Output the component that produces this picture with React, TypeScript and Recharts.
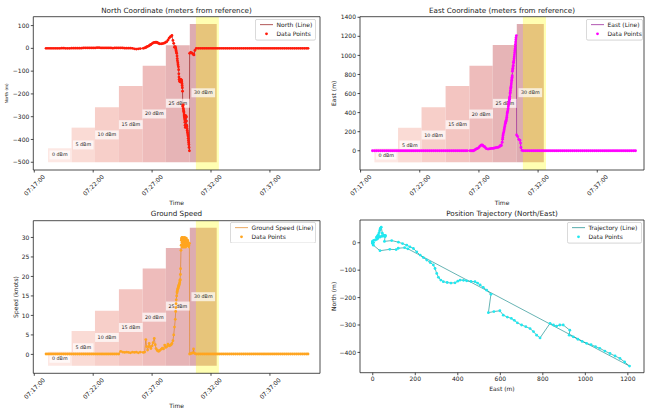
import React from 'react';
import { ComposedChart, Line, XAxis, YAxis, ReferenceArea, ReferenceDot, Legend } from 'recharts';

const FONT = 'DejaVu Sans';
const INK = '#222';

// sample times, seconds after 07:17:00
const times = [
  60, 70, 80, 90, 100, 110, 120, 130, 140, 150, 160, 170, 180, 190, 200, 210, 220, 230, 240,
  250, 260, 270, 280, 290, 300, 310, 320, 330, 340, 350, 360, 370, 380, 390, 400, 410, 420, 430,
  440, 450, 460, 470, 480, 490, 500, 510, 520, 530, 540,
  555, 562, 568, 572, 577, 582, 585, 590, 594, 600, 605, 611, 616, 620, 625, 629, 634, 638, 646,
  652, 658, 664, 670, 675, 681, 687, 692, 697, 701,
  706, 710, 714, 718, 720, 721, 722, 723, 725, 727, 728, 729, 731, 732, 734, 735, 736, 737, 738,
  740, 741, 742, 743, 744, 745, 747, 748, 749, 750, 751, 752, 753, 754, 755, 756, 757, 758, 759,
  760, 761, 762, 763, 764, 765, 766, 767, 768, 769, 770, 771, 772, 773, 774, 775, 776, 777, 778,
  779, 780, 781, 782, 783, 784, 785, 786, 787, 788, 790,
  791, 796, 802, 808, 811, 813, 818, 825,
  835, 845, 855, 865, 875, 885, 895, 905, 915, 925, 935, 945, 955, 965, 975, 985, 995, 1005, 1015,
  1025, 1035, 1045, 1055, 1065, 1075, 1085, 1095, 1105, 1115, 1125, 1135, 1145, 1155, 1165, 1175,
  1185, 1195, 1205, 1215, 1225, 1235, 1245, 1255, 1265, 1275, 1285, 1295, 1305, 1315, 1325, 1335,
  1345, 1355, 1365, 1375, 1385, 1394,
];

// metres north of the reference point
const northM = [
  0, 0, 0, 0, 0, 0, 0, 0, 1, 1, 0, 0, 0, 1, 1, 1, 1, 1, 1,
  2, 2, 2, 2, 2, 2, 2, 3, 3, 2, 2, 2, 2, 2, 2, 1, 2, 2, 2,
  2, 2, 1, 1, 1, 1, 0, -2, -3, -2, -1,
  0, 2, 4, 6, 9, 10, 12, 15, 17, 21, 24, 26, 26, 27, 26, 24, 22, 20, 20,
  21, 22, 24, 27, 30, 37, 45, 50, 53, 57,
  35, 22, 5, 8, 2, -3, -9, -15, -21, -33, -45, -54, -63, -72, -81, -94, -112, -126, -136,
  -142, -145, -147, -146, -140, -136, -137, -139, -141, -142, -147, -154, -163, -173, -188, -255, -251, -248, -264,
  -271, -276, -283, -292, -300, -306, -313, -324, -337, -347, -294, -300, -304, -300, -300, -319, -337, -343, -352,
  -360, -367, -372, -379, -385, -395, -404, -413, -422, -435, -450,
  -22, -18, -20, -25, -24, -29, -9, 0,
  0, 0, 0, 0, 0, 0, 0, 0, 0, 0, 0, 0, 0, 0, 0, 0, 0, 0, 0,
  0, 0, 0, 0, 0, 0, 0, 0, 0, 0, 0, 0, 0, 0, 0, 0, 0, 0, 0,
  0, 0, 0, 0, 0, 0, 0, 0, 0, 0, 0, 0, 0, 0, 0, 0, 0, 0, 0,
];

// metres east of the reference point
const eastM = [
  0, 0, 0, 0, 0, 0, 0, 0, 0, 0, 0, 0, 0, 0, 0, 0, 0, 0, 0,
  0, 0, 0, 0, 0, 0, 0, 0, 0, 0, 0, 0, 0, 0, 0, 0, 0, 0, 0,
  0, 0, 0, 0, 0, 0, 0, 0, 0, 0, 0,
  0, 0, 0, 0, 5, 12, 18, 22, 25, 35, 48, 58, 60, 55, 45, 42, 30, 22, 18,
  20, 22, 24, 25, 26, 30, 33, 35, 36, 40,
  45, 58, 55, 89, 121, 140, 160, 175, 191, 207, 223, 238, 254, 270, 285, 293, 301, 309, 320,
  332, 350, 368, 387, 400, 411, 427, 442, 462, 481, 493, 505, 520, 536, 556, 544, 570, 598, 614,
  633, 652, 666, 680, 700, 720, 740, 756, 771, 787, 834, 850, 865, 880, 896, 927, 924, 943, 965,
  985, 1006, 1027, 1048, 1068, 1092, 1116, 1140, 1163, 1185, 1208,
  165, 150, 120, 110, 80, 34, 3, 0,
  0, 0, 0, 0, 0, 0, 0, 0, 0, 0, 0, 0, 0, 0, 0, 0, 0, 0, 0,
  0, 0, 0, 0, 0, 0, 0, 0, 0, 0, 0, 0, 0, 0, 0, 0, 0, 0, 0,
  0, 0, 0, 0, 0, 0, 0, 0, 0, 0, 0, 0, 0, 0, 0, 0, 0, 0, 0,
];

// ground speed, knots
const speedKn = [
  0.1, 0.1, 0.1, 0.1, 0.1, 0.1, 0.1, 0.1, 0.1, 0.1, 0.1, 0.1, 0.1, 0.1, 0.1, 0.1, 0.1, 0.1, 0.1,
  0.1, 0.1, 0.1, 0.1, 0.1, 0.1, 0.1, 0.1, 0.1, 0.1, 0.1, 0.1, 0.1, 0.1, 0.1, 0.1, 0.1, 0.1, 0.1,
  0.8, 0.6, 0.5, 0.6, 0.5, 0.4, 0.6, 0.5, 0.6, 0.4, 0.6,
  0.5, 0.6, 3.8, 2.0, 1.1, 2.0, 2.8, 2.0, 1.5, 2.2, 3.0, 4.1, 2.5, 1.5, 1.1, 0.9, 0.8, 1.0, 1.3,
  1.6, 1.4, 2.4, 1.8, 2.0, 2.6, 2.2, 2.3, 2.5, 2.8,
  3.5, 5.0, 7.0, 9.0, 11.0, 12.0, 13.0, 14.0, 15.0, 15.8, 16.2, 16.5, 16.8, 17.0, 17.3, 17.5, 17.6, 17.8, 18.0,
  18.3, 18.6, 19.0, 19.2, 20.5, 22.0, 26.7, 28.0, 29.3, 29.6, 29.8, 30.0, 28.8, 27.5, 28.2, 29.8, 30.0, 29.5, 29.0,
  28.4, 28.0, 27.5, 27.8, 28.5, 29.2, 30.0, 29.5, 28.8, 28.0, 27.5, 28.0, 28.5, 29.2, 29.8, 28.8, 28.0, 27.8, 28.2,
  28.5, 29.0, 29.3, 29.0, 28.5, 28.0, 27.8, 27.6, 28.0, 28.4, 28.5,
  0.1, 0.2, 0.3, 0.4, 1.4, 0.4, 0.2, 0.1,
  0.1, 0.1, 0.1, 0.1, 0.1, 0.1, 0.1, 0.1, 0.1, 0.1, 0.1, 0.1, 0.1, 0.1, 0.1, 0.1, 0.1, 0.1, 0.1,
  0.1, 0.1, 0.1, 0.1, 0.1, 0.1, 0.1, 0.1, 0.1, 0.1, 0.1, 0.1, 0.1, 0.1, 0.1, 0.1, 0.1, 0.1, 0.1,
  0.1, 0.1, 0.1, 0.1, 0.1, 0.1, 0.1, 0.1, 0.1, 0.1, 0.1, 0.1, 0.1, 0.1, 0.1, 0.1, 0.1, 0.1, 0.1,
];

// transmit power steps (seconds after 07:17:00)
const powerLabels = ['0 dBm', '5 dBm', '10 dBm', '15 dBm', '20 dBm', '25 dBm', '30 dBm'];
const stepStart = [70, 190, 309, 431, 552, 670, 792];
const stepEnd = [190, 309, 431, 552, 670, 792, 929];
const stepColors = ['#fde8e4', '#fadbd5', '#f7cfc9', '#f3c5c1', '#eebcbb', '#e6b4b6', '#ddacb1'];
const highlight = [823, 940];

const northStepTop = [-438, -348, -259, -165, -76, 14, 107];
const northStepLabelY = [-468, -424, -380, -335, -288, -241, -195];
const eastStepTop = [23, 241, 455, 679, 892, 1109, 1330];
const eastStepLabelY = [-45, 60, 165, 273, 385, 497, 609];
const speedStepTop = [0.7, 6.0, 11.2, 16.7, 22.05, 27.3, 32.5];
const speedStepLabelY = [-1.0, 1.7, 4.35, 6.9, 9.55, 12.4, 14.8];

const timeTicks = [0, 300, 600, 900, 1200];
const northTicks = [-500, -400, -300, -200, -100, 0, 100];
const eastTicks = [0, 200, 400, 600, 800, 1000, 1200, 1400];
const speedTicks = [0, 5, 10, 15, 20, 25, 30];
const trajEastTicks = [0, 200, 400, 600, 800, 1000, 1200];
const trajNorthTicks = [-400, -300, -200, -100, 0];

const rows = times.map((t, i) => ({ t, north: northM[i], east: eastM[i], speed: speedKn[i] }));

const clock = (s: number) => {
  const total = 7 * 3600 + 17 * 60 + s;
  const parts = [Math.floor(total / 3600), Math.floor((total % 3600) / 60), total % 60];
  return parts.map((n) => String(n).padStart(2, '0')).join(':');
};
const fmtNum = (v: number) => (v < 0 ? '\u2212' + Math.abs(v) : String(v));

const TimeTick = (props: any) => {
  const { x, y, payload } = props;
  const cy = y + 11;
  return (
    <text x={x} y={cy} transform={`rotate(-45 ${x} ${cy})`} textAnchor="middle" dominantBaseline="central"
      fontSize={6} fill={INK} fontFamily={FONT}>
      {clock(payload.value)}
    </text>
  );
};

const xLabelFn = (text: string, dy: number) => (props: any) => {
  const vb = props.viewBox;
  return (
    <text x={vb.x + vb.width / 2} y={vb.y + dy} textAnchor="middle" dominantBaseline="central"
      fontSize={6} fill={INK} fontFamily={FONT}>{text}</text>
  );
};

const yLabelFn = (text: string, dx: number, size: number) => (props: any) => {
  const vb = props.viewBox;
  const cx = vb.x + dx;
  const cy = vb.y + vb.height / 2;
  return (
    <text x={cx} y={cy} transform={`rotate(-90 ${cx} ${cy})`} textAnchor="middle" dominantBaseline="central"
      fontSize={size} fill={INK} fontFamily={FONT}>{text}</text>
  );
};

const dbmShape = (text: string) => (props: any) => {
  const w = text.length * 3.12 + 5;
  return (
    <g>
      <rect x={props.cx - w / 2} y={props.cy - 4.5} width={w} height={9} fill="#fff" fillOpacity={0.7} />
      <text x={props.cx} y={props.cy} textAnchor="middle" dominantBaseline="central" fontSize={4.8}
        fill={INK} fontFamily={FONT}>{text}</text>
    </g>
  );
};

function LegendBox({ width, name, lineColor, dotColor }: { width: number; name: string; lineColor: string; dotColor: string }) {
  const h = 21.5;
  return (
    <svg width={width} height={h} style={{ display: 'block', fontFamily: FONT }}>
      <rect x={0.4} y={0.4} width={width - 0.8} height={h - 0.8} rx={1.6} fill="#fff" fillOpacity={0.8}
        stroke="#ccc" strokeWidth={0.8} />
      <line x1={5} x2={18} y1={5.6} y2={5.6} stroke={lineColor} strokeOpacity={0.6} strokeWidth={1.1} />
      <text x={21.5} y={5.6} dominantBaseline="central" fontSize={6} fill={INK}>{name}</text>
      <circle cx={11.5} cy={14.8} r={1.4} fill={dotColor} />
      <text x={21.5} y={14.8} dominantBaseline="central" fontSize={6} fill={INK}>Data Points</text>
    </svg>
  );
}

type Steps = { top: number[]; bottom: number; labelY: number[] };

type PanelProps = {
  left: number; top: number; width: number; height: number;
  margin: { top: number; right: number; bottom: number; left: number };
  yWidth: number; xHeight: number;
  xKey: string; yKey: string;
  xDomain: [number, number]; yDomain: [number, number];
  xTicks: number[]; yTicks: number[];
  timeAxis: boolean;
  lineColor: string; dotColor: string;
  steps?: Steps;
  legendName: string; legendLeft: number; legendTop: number; legendWidth: number;
  xLabel: string; xLabelDy: number;
  yLabel: string; yLabelX: number; yLabelSize: number;
};

function Panel(p: PanelProps) {
  const steps = p.steps;
  return (
    <div style={{ position: 'absolute', left: p.left, top: p.top }}>
      <ComposedChart width={p.width} height={p.height} data={rows} margin={p.margin} style={{ fontFamily: FONT }}>
        <XAxis dataKey={p.xKey} type="number" domain={p.xDomain} allowDataOverflow ticks={p.xTicks} interval={0}
          axisLine={false} tickSize={2.5} tickMargin={1.5} tickLine={{ stroke: INK, strokeWidth: 0.8 }}
          height={p.xHeight} tick={p.timeAxis ? TimeTick : { fontSize: 6, fill: INK }} tickFormatter={fmtNum}
          label={xLabelFn(p.xLabel, p.xLabelDy)} />
        <YAxis type="number" domain={p.yDomain} allowDataOverflow ticks={p.yTicks} interval={0} width={p.yWidth}
          axisLine={false} tickSize={2.5} tickMargin={1.5} tickLine={{ stroke: INK, strokeWidth: 0.8 }}
          tick={{ fontSize: 6, fill: INK }} tickFormatter={fmtNum}
          label={yLabelFn(p.yLabel, p.yLabelX, p.yLabelSize)} />
        {steps && stepStart.map((s, i) => (
          <ReferenceArea key={'step' + i} x1={s} x2={stepEnd[i]} y1={steps.bottom} y2={steps.top[i]}
            fill={stepColors[i]} fillOpacity={1} stroke="none" ifOverflow="visible" />
        ))}
        {steps && (
          <ReferenceArea x1={highlight[0]} x2={highlight[1]} fill="#ffff00" fillOpacity={0.3} stroke="none"
            ifOverflow="visible" />
        )}
        {steps && powerLabels.map((txt, i) => (
          <ReferenceDot key={'lab' + i} x={(stepStart[i] + stepEnd[i]) / 2} y={steps.labelY[i]} r={0}
            shape={dbmShape(txt)} ifOverflow="visible" />
        ))}
        <Line dataKey={p.yKey} type="linear" stroke={p.lineColor} strokeOpacity={0.6} strokeWidth={1}
          dot={{ r: 1.4, fill: p.dotColor, stroke: 'none' }} activeDot={false} isAnimationActive={false} />
        <ReferenceArea x1={p.xDomain[0]} x2={p.xDomain[1]} y1={p.yDomain[0]} y2={p.yDomain[1]} fill="none"
          stroke={INK} strokeWidth={0.8} ifOverflow="visible" />
        <Legend layout="horizontal" verticalAlign="middle" align="center"
          wrapperStyle={{ left: p.legendLeft, top: p.legendTop, width: p.legendWidth, height: 22 }}
          content={() => <LegendBox width={p.legendWidth} name={p.legendName} lineColor={p.lineColor} dotColor={p.dotColor} />} />
      </ComposedChart>
    </div>
  );
}

const Title = ({ cx, cy, text }: { cx: number; cy: number; text: string }) => (
  <div style={{
    position: 'absolute', left: cx - 150, top: cy - 5, width: 300, height: 10, lineHeight: '10px',
    textAlign: 'center', fontSize: 7.2, fontFamily: FONT, color: INK, whiteSpace: 'nowrap',
  }}>{text}</div>
);

export default function App() {
  return (
    <div style={{ position: 'absolute', left: 0, top: 0, width: 645, height: 412, background: '#fff', overflow: 'hidden' }}>
      <Title cx={176.5} cy={10.7} text="North Coordinate (meters from reference)" />
      <Title cx={502} cy={10.7} text="East Coordinate (meters from reference)" />
      <Title cx={176.5} cy={214} text="Ground Speed" />
      <Title cx={502} cy={214} text="Position Trajectory (North/East)" />

      <Panel left={0} top={0} width={322} height={206} margin={{ top: 16.7, right: 2, bottom: 0, left: 0 }}
        yWidth={33.3} xHeight={36} xKey="t" yKey="north" xDomain={[-5, 1455]} yDomain={[-534, 139]}
        xTicks={timeTicks} yTicks={northTicks} timeAxis lineColor="#8b0000" dotColor="#ff1a0a"
        steps={{ top: northStepTop, bottom: -500, labelY: northStepLabelY }}
        legendName="North (Line)" legendLeft={255} legendTop={19} legendWidth={61}
        xLabel="Time" xLabelDy={32.7} yLabel="North (m)" yLabelX={6.7} yLabelSize={4.1} />

      <Panel left={322} top={0} width={323} height={206} margin={{ top: 16.7, right: 1, bottom: 0, left: 0 }}
        yWidth={38} xHeight={36} xKey="t" yKey="east" xDomain={[-3, 1437]} yDomain={[-202, 1406]}
        xTicks={timeTicks} yTicks={eastTicks} timeAxis lineColor="#8b008b" dotColor="#ff00ff"
        steps={{ top: eastStepTop, bottom: -122, labelY: eastStepLabelY }}
        legendName="East (Line)" legendLeft={264} legendTop={19} legendWidth={57}
        xLabel="Time" xLabelDy={32.7} yLabel="East (m)" yLabelX={11.3} yLabelSize={6} />

      <Panel left={0} top={206} width={322} height={206} margin={{ top: 14.7, right: 2, bottom: 0, left: 0 }}
        yWidth={33.3} xHeight={38.7} xKey="t" yKey="speed" xDomain={[-5, 1455]} yDomain={[-4.85, 34.3]}
        xTicks={timeTicks} yTicks={speedTicks} timeAxis lineColor="#e07b10" dotColor="#ffa520"
        steps={{ top: speedStepTop, bottom: -2.92, labelY: speedStepLabelY }}
        legendName="Ground Speed (Line)" legendLeft={230} legendTop={15.7} legendWidth={86}
        xLabel="Time" xLabelDy={31.7} yLabel="Speed (knots)" yLabelX={15} yLabelSize={6} />

      <Panel left={322} top={206} width={323} height={206} margin={{ top: 14, right: 1, bottom: 0, left: 0 }}
        yWidth={38} xHeight={39.3} xKey="east" yKey="north" xDomain={[-60, 1276]} yDomain={[-474, 83]}
        xTicks={trajEastTicks} yTicks={trajNorthTicks} timeAxis={false} lineColor="#008080" dotColor="#20e8f0"
        legendName="Trajectory (Line)" legendLeft={245} legendTop={16} legendWidth={75}
        xLabel="East (m)" xLabelDy={15.3} yLabel="North (m)" yLabelX={11.3} yLabelSize={6} />
    </div>
  );
}
